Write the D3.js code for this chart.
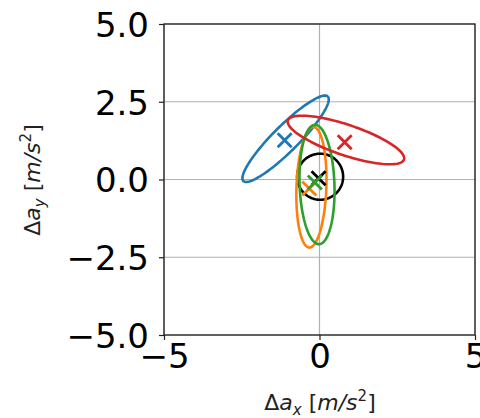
<!DOCTYPE html>
<html>
<head>
<meta charset="utf-8">
<script src="https://cdn.jsdelivr.net/npm/d3@7"></script>
<style>
  body { margin: 0; background: #fff; }
  svg { display: block; font-family: "DejaVu Sans", sans-serif; }
</style>
</head>
<body>
<div id="chart"></div>
<script>
// ellipse params (data units) + the "x" markers, one entry per series
const seriesColors = ["#000000", "#1f77b4", "#ff7f0e", "#2ca02c", "#d62728"];
const ellipseCx = [0.02, -1.09, -0.26, -0.08, 0.85];
const ellipseCy = [0.09, 1.31, -0.25, -0.16, 1.27];
const ellipseA = [0.74, 1.92, 1.94, 1.92, 1.97];
const ellipseB = [0.74, 0.41, 0.48, 0.56, 0.49];
const ellipseAngle = [0, 45, 88, 92, -18.6];
const markerX = [-0.03, -1.12, -0.33, -0.15, 0.81];
const markerY = [0.04, 1.26, -0.29, -0.1, 1.2];

const xTicks = [-5, 0, 5];
const yTicks = [-5, -2.5, 0, 2.5, 5];

const W = 480, H = 418;
const plot = {left: 164, right: 475, top: 24, bottom: 335};

const svg = d3.select("#chart").append("svg")
    .attr("width", W)
    .attr("height", H);

const x = d3.scaleLinear().domain([-5, 5]).range([plot.left, plot.right]);
const y = d3.scaleLinear().domain([-5, 5]).range([plot.bottom, plot.top]);

// grid
const grid = svg.append("g");
grid.selectAll(".gx").data(xTicks).enter().append("line")
    .attr("x1", d => x(d)).attr("x2", d => x(d))
    .attr("y1", plot.top).attr("y2", plot.bottom)
    .attr("stroke", "#b0b0b0").attr("stroke-width", 1.2);
grid.selectAll(".gy").data(yTicks).enter().append("line")
    .attr("y1", d => y(d)).attr("y2", d => y(d))
    .attr("x1", plot.left).attr("x2", plot.right)
    .attr("stroke", "#b0b0b0").attr("stroke-width", 1.2);

// ellipses built from the params, drawn through the scales
const line = d3.line().x(p => x(p[0])).y(p => y(p[1]));
function ellipsePoints(i) {
  const t = ellipseAngle[i] * Math.PI / 180;
  const pts = [];
  for (let k = 0; k <= 120; k++) {
    const u = k / 120 * 2 * Math.PI;
    const ex = ellipseA[i] * Math.cos(u), ey = ellipseB[i] * Math.sin(u);
    pts.push([ellipseCx[i] + ex * Math.cos(t) - ey * Math.sin(t),
              ellipseCy[i] + ex * Math.sin(t) + ey * Math.cos(t)]);
  }
  return pts;
}

const marks = svg.append("g");
seriesColors.forEach((c, i) => {
  marks.append("path")
      .attr("d", line(ellipsePoints(i)))
      .attr("fill", "none")
      .attr("stroke", c)
      .attr("stroke-width", 2.6);
});
const ms = 7;
seriesColors.forEach((c, i) => {
  const cx = x(markerX[i]), cy = y(markerY[i]);
  marks.append("path")
      .attr("d", `M${cx - ms},${cy - ms}L${cx + ms},${cy + ms}M${cx - ms},${cy + ms}L${cx + ms},${cy - ms}`)
      .attr("stroke", c)
      .attr("stroke-width", 2.8)
      .attr("fill", "none");
});

// frame
svg.append("rect")
    .attr("x", plot.left).attr("y", plot.top)
    .attr("width", plot.right - plot.left).attr("height", plot.bottom - plot.top)
    .attr("fill", "none").attr("stroke", "#222").attr("stroke-width", 1.3);

// axes
const fmtX = d => d3.format("d")(d).replace("-", "\u2212");
const fmtY = d => d3.format(".1f")(d).replace("-", "\u2212");

const xAxis = d3.axisBottom(x).tickValues(xTicks).tickSize(5).tickPadding(4).tickFormat(fmtX);
const yAxis = d3.axisLeft(y).tickValues(yTicks).tickSize(5).tickPadding(10).tickFormat(fmtY);

const gx = svg.append("g").attr("transform", `translate(0,${plot.bottom})`).call(xAxis);
const gy = svg.append("g").attr("transform", `translate(${plot.left},0)`).call(yAxis);
[gx, gy].forEach(g => {
  g.select(".domain").remove();
  g.selectAll(".tick line").attr("stroke", "#222").attr("stroke-width", 1.2);
  g.selectAll("text").attr("font-size", 34).attr("fill", "#000")
      .attr("font-family", "DejaVu Sans");
});
gy.selectAll("text").attr("dy", "0.36em");

// axis labels
function axisLabel(sel, sub) {
  sel.append("tspan").text("\u0394");
  sel.append("tspan").attr("font-style", "italic").text("a");
  sel.append("tspan").attr("font-style", "italic").attr("font-size", 15).attr("dy", 5).text(sub);
  sel.append("tspan").attr("dy", -5).text(" [");
  sel.append("tspan").attr("font-style", "italic").text("m/s");
  sel.append("tspan").attr("font-size", 15).attr("dy", -9).text("2");
  sel.append("tspan").attr("dy", 9).text("]");
}
const xl = svg.append("text")
    .attr("x", 320).attr("y", 410)
    .attr("text-anchor", "middle")
    .attr("font-size", 22).attr("fill", "#222");
axisLabel(xl, "x");

const yl = svg.append("text")
    .attr("transform", "translate(40,180) rotate(-90)")
    .attr("text-anchor", "middle")
    .attr("font-size", 22).attr("fill", "#222");
axisLabel(yl, "y");
</script>
</body>
</html>
